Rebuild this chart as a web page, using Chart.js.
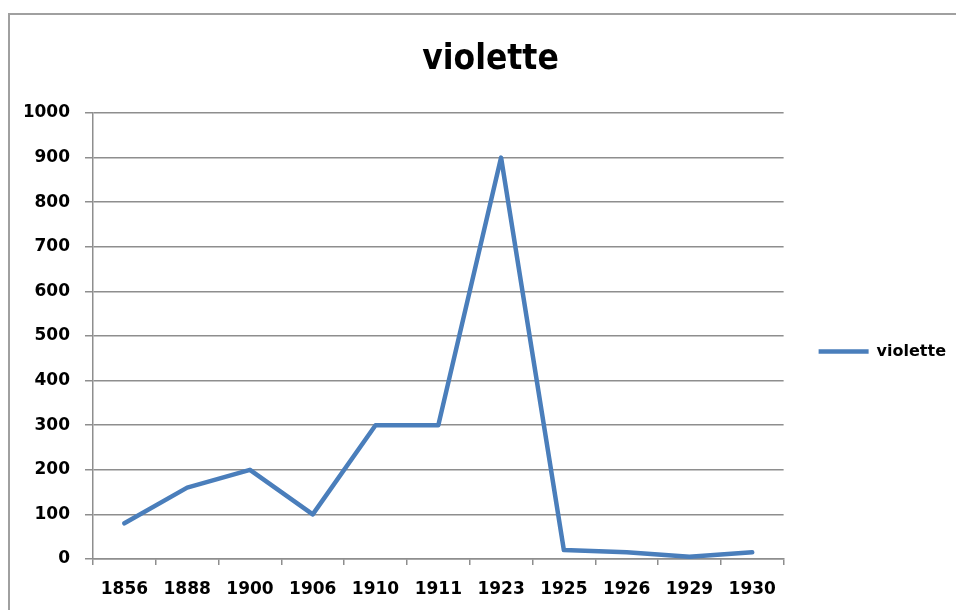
<!DOCTYPE html>
<html>
<head>
<meta charset="utf-8">
<title>violette</title>
<script src="https://cdn.jsdelivr.net/npm/chart.js@4/dist/chart.umd.min.js"></script>
<style>
	html, body { margin: 0; padding: 0; background: #fff; overflow: hidden; }
	#frame {
		position: absolute; left: 8px; top: 13px;
		width: 1000px; height: 700px;
		border: 2px solid #a0a0a0;
	}
	#wrap { position: absolute; left: 0; top: 0; width: 956px; height: 610px; }
</style>
</head>
<body>
<div id="frame"></div>
<div id="wrap"><canvas id="myChart" width="956" height="610"></canvas></div>
<script>
var annees = ["1856", "1888", "1900", "1906", "1910", "1911", "1923", "1925", "1926", "1929", "1930"];
var violette = [80, 160, 200, 100, 300, 300, 900, 20, 15, 5, 15];
var graduations = [0, 100, 200, 300, 400, 500, 600, 700, 800, 900, 1000];

var bleu = "#4a7ebb";
var gris = "#8e8e8e";
var police = "'DejaVu Sans', sans-serif";

var ctx = document.getElementById("myChart");

var data = {
	labels : annees,
	datasets : [
		{
			label : "violette",
			data : violette,
			borderColor : bleu,
			backgroundColor : bleu,
			borderWidth : 4.5,
			fill : false,
			tension : 0,
			pointRadius : 0,
			pointHoverRadius : 0,
			borderJoinStyle : "round",
			borderCapStyle : "round"
		}
	]
};

var myChart = new Chart(ctx, {
	type : "line",
	data : data,
	options : {
		responsive : false,
		animation : false,
		layout : { padding : { left : 25, right : 0, top : 0, bottom : 0 } },
		plugins : {
			title : {
				display : true,
				text : "violette",
				color : "#000",
				font : { family : "'DejaVu Sans Condensed', 'DejaVu Sans', sans-serif", size : 35, weight : "bold" },
				padding : { top : 39, bottom : 32 }
			},
			legend : {
				position : "right",
				fullSize : false,
				title : { display : true, text : "", padding : { top : 12, bottom : 0 }, font : { size : 16 } },
				labels : {
					usePointStyle : true,
					pointStyle : "line",
					pointStyleWidth : 50,
					padding : 35,
					color : "#000",
					font : { family : police, size : 16, weight : "bold" }
				}
			},
			tooltip : { enabled : false }
		},
		scales : {
			x : {
				offset : true,
				border : { display : true, color : gris, width : 1.5 },
				grid : { offset : true, drawOnChartArea : false, drawTicks : true, tickLength : 6, color : gris, lineWidth : 1.5 },
				ticks : {
					autoSkip : false, maxRotation : 0, padding : 14, color : "#000",
					font : { family : police, size : 17, weight : "bold" }
				},
				afterFit : function(scale) { scale.height = 51; }
			},
			y : {
				min : 0,
				max : 1000,
				afterBuildTicks : function(scale) {
					scale.ticks = graduations.map(function(v) { return { value : v }; });
				},
				border : { display : true, color : gris, width : 1.5 },
				grid : { color : gris, lineWidth : 1.5, tickLength : 8 },
				ticks : {
					padding : 15, color : "#000",
					font : { family : police, size : 17, weight : "bold" },
					callback : function(v) { return String(v); }
				},
				afterFit : function(scale) { scale.width = 68; }
			}
		}
	}
});
</script>
</body>
</html>
